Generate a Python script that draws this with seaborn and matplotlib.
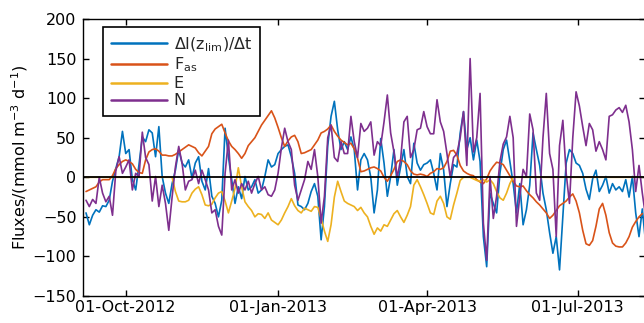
import numpy as np
import pandas as pd
import matplotlib
matplotlib.use("Agg")
import matplotlib.pyplot as plt
import matplotlib.dates as mdates
import seaborn as sns

# ---------------- data (2-day sampling) ----------------
start_date = "2012-09-07"
step_days = 2

labels = [r"$\Delta$I(z$_{lim}$)/$\Delta$t", r"F$_{as}$", "E", "N"]
colors = ["#0072BD", "#D95319", "#EDB120", "#7E2F8E"]

dIdt = [-45, -60, -48, -41, -44, -36, -37, -29, -5, 11,
        26, 58, 30, 35, -3, -16, 16, 51, 45, 60,
        56, 26, 64, 1, -20, -33, -8, 9, 35, 18,
        13, 22, -1, 18, 26, -5, -16, 11, -24, -33,
        -50, -29, 62, 26, -3, -33, -12, -27, 1, -16,
        -12, -3, -20, -16, 1, 22, 13, 16, 30, 35,
        39, 41, 26, 5, -35, -37, -41, -33, -18, -8,
        -24, -79, -37, 40, 77, 96, 60, 35, 45, 35,
        51, 35, -16, 22,
        30, 22, 0, -45, -16, 49, 18, -24, 1, 35,
        -10, 13, 35, 1, -8, 43, 18, 9, 16, 18,
        22, 5, -16, 30, 9, -37, -8, 16, 13, 56,
        83, 35, 50, 22, 47, 20, -75, -113, -20, -33,
        -45, 5, 35, 47, 20, -8, -45, -8, -60, -41,
        -10, 56, 35, 15, -20, -41, -70, -96, -75, -117,
        -50, 18, 35, 30, 18, 15, 5, -15, -28, -2,
        9, -18, -10, 1, -20, -8, -16, -12, -18, -3,
        -25, 1, -45, -75, -40, -83]

Fas = [-18, -16, -14, -12, -6, -3, -3, -3, 2, 11,
       16, 20, 22, 20, 17, 10, 6, 5, 22, 32,
       35, 36, 33, 28, 28, 27, 27, 29, 32, 35,
       38, 41, 39, 37, 31, 27, 33, 39, 55, 61,
       64, 67, 56, 46, 39, 35, 30, 24, 30, 40,
       45, 50, 58, 66, 72, 78, 84, 75, 63, 50,
       39, 46, 51, 53, 45, 30, 31, 33, 35, 41,
       47, 56, 58, 61, 66, 58, 52, 47, 44, 41,
       43, 36, 24, 7, 8, 10, 12, 13, 11, 8,
       0, -5, 2, 10, 20, 22, 20, 16, 8, 4,
       3, 4, 3, 1, 5, 7, 11, 10, 12, 20,
       33, 34, 28, 15, 8, 5, 3, 2, -3, -6,
       -8, -2, 8, 14, 19, 18, 16, 9, 2, -5,
       -11, -12, -11, -17, -22, -26, -31, -35, -40, -45,
       -52, -48, -42, -36, -33, -30, -25, -21, -30, -45,
       -67, -84, -86, -80, -62, -40, -33, -48, -70, -83,
       -87, -88, -88, -83, -75, -63, -56, -50, -46]

E = [0, 0, 0, 0, 0, 0, 0, 0, 0, 0,
     0, 0, 0, 0, 0, 0, 0, 0, 0, 0,
     0, 0, 0, 0, 0, 0, 0,
     -18, -30, -31, -31, -29, -20, -15, -12, -22, -35,
     -36, -34, -26, -20, -18, -30, -45, -30, -14, 12,
     -12, -31, -37, -42, -50, -46, -47, -52, -45, -54,
     -57, -60, -54, -45, -37, -27, -36, -42, -45, -39,
     -41, -43, -37, -38, -52, -68, -81, -60, -25, -5,
     -18, -30, -33, -35, -37, -42, -38, -45, -50, -62,
     -72, -64, -68, -60, -62, -54, -46, -42, -50, -57,
     -48, -37, -10, -3, -12, -22, -33, -45, -47, -30,
     -24, -33, -50, -53, -35, -20, -4, 0, 0, 0,
     -2, -4, -5, -3, -6, -3, -8, -18, -26, -29,
     -20, -8, 0,
     0, 0, 0, 0, 0, 0, 0, 0, 0, 0,
     0, 0, 0, 0, 0, 0, 0, 0, 0, 0,
     0, 0, 0, 0, 0, 0, 0, 0, 0, 0,
     0, 0, 0, 0, 0, 0, 0, 0, 0]

N = [-29, -37, -28, -33, 0, -20, -31, -24, -48, 8,
     26, 5, 13, 22, -16, 5, 1, 57, 25, 16,
     -30, 1, -37, -10, -33, -67, -25, 13, 39, 18,
     -16, -5, -3, 9, -8, 9, -3, -16, -45, -41,
     -62, -73, 5, 47, -16, -3, -20, -8, -16, -5,
     -20, -8, 1, -16, -12, -22, -24, -16, 5, 37,
     62, 45, 35, -10, -29, -16, -3, 20, 10, 35,
     1, -58, -24, 50, 66, 25, 20, 45, 30, 30,
     77, 45, 25, 68,
     58, 62, 70, 28, 45, 40, 70, 104, 56, 32,
     0, 22, 70, 77, 25, 35, 60, 62, 83, 64,
     55, 55, 98, 70, 58, 30, 0, 25, 30, 50,
     83, 15, 150, 32, 50, 106, -58, -105, 1, -52,
     -24, 20, 42, 51, 77, 50, -62, -24, 10, 1,
     80, 60, -20, -29, 50, 106, 30, 10, -75, 40,
     72, 5, -33, 50, 108, 90, 64, 40, 68, 60,
     33, 45, 35, 22, 77, 79, 85, 88, 82, 91,
     70, 35, -18, 15, -20, -50]

yticks = [-150, -100, -50, 0, 50, 100, 150, 200]
xtick_dates = ["2012-10-01", "2013-01-01", "2013-04-01", "2013-07-01"]
ylabel = r"Fluxes/(mmol m$^{-3}$ d$^{-1}$)"

# ---------------- build long table ----------------
frames = []
for lab, vals in zip(labels, [dIdt, Fas, E, N]):
    dates = pd.Timestamp(start_date) + pd.to_timedelta(np.arange(len(vals)) * step_days, unit="D")
    frames.append(pd.DataFrame({"date": dates, "value": vals, "series": lab}))
df = pd.concat(frames, ignore_index=True)

# ---------------- style ----------------
sns.set_theme(style="white")
plt.rcParams.update({
    "font.family": ["DejaVu Sans"],
    "mathtext.default": "regular",
    "axes.edgecolor": "black",
    "axes.linewidth": 1.0,
    "xtick.direction": "in",
    "ytick.direction": "in",
    "xtick.top": True,
    "ytick.right": True,
    "xtick.bottom": True,
    "ytick.left": True,
    "xtick.color": "black",
    "ytick.color": "black",
})

fig = plt.figure(figsize=(6.44, 3.23), dpi=100)
ax = fig.add_axes([82.7 / 644, 27 / 323, (644.8 - 82.7) / 644, 277 / 323])

sns.lineplot(data=df, x="date", y="value", hue="series", hue_order=labels,
             palette=colors, estimator=None, linewidth=1.2, ax=ax)

ax.axhline(0, color="black", linewidth=1.3, zorder=5)

x0 = pd.Timestamp("2012-09-05")
ax.set_xlim(x0, x0 + pd.Timedelta(days=339.5))
ax.set_ylim(-150, 200)
ax.set_yticks(yticks)
ax.set_xticks(pd.to_datetime(xtick_dates))
ax.xaxis.set_major_formatter(mdates.DateFormatter("%d-%b-%Y"))
ax.tick_params(axis="both", which="major", length=4, width=1.0,
               labelsize=11.5, labelcolor="black")
ax.tick_params(axis="y", pad=4.5)
ax.tick_params(axis="x", pad=3)
ax.set_xlabel("")
ax.set_ylabel(ylabel, fontsize=11.5, color="black", labelpad=2)
for s in ax.spines.values():
    s.set_visible(True)
    s.set_color("black")

handles, labs = ax.get_legend_handles_labels()
leg = ax.legend(handles, labs, loc="upper left", bbox_to_anchor=(0.0356, 0.970),
                borderaxespad=0, fontsize=11.5, frameon=True, fancybox=False,
                edgecolor="black", framealpha=1, handlelength=3.5,
                handletextpad=0.45, labelspacing=0.12, borderpad=0.5)
leg.get_frame().set_linewidth(1.2)
for h in leg.get_lines():
    h.set_linewidth(1.8)

fig.savefig("out.png", dpi=100)
